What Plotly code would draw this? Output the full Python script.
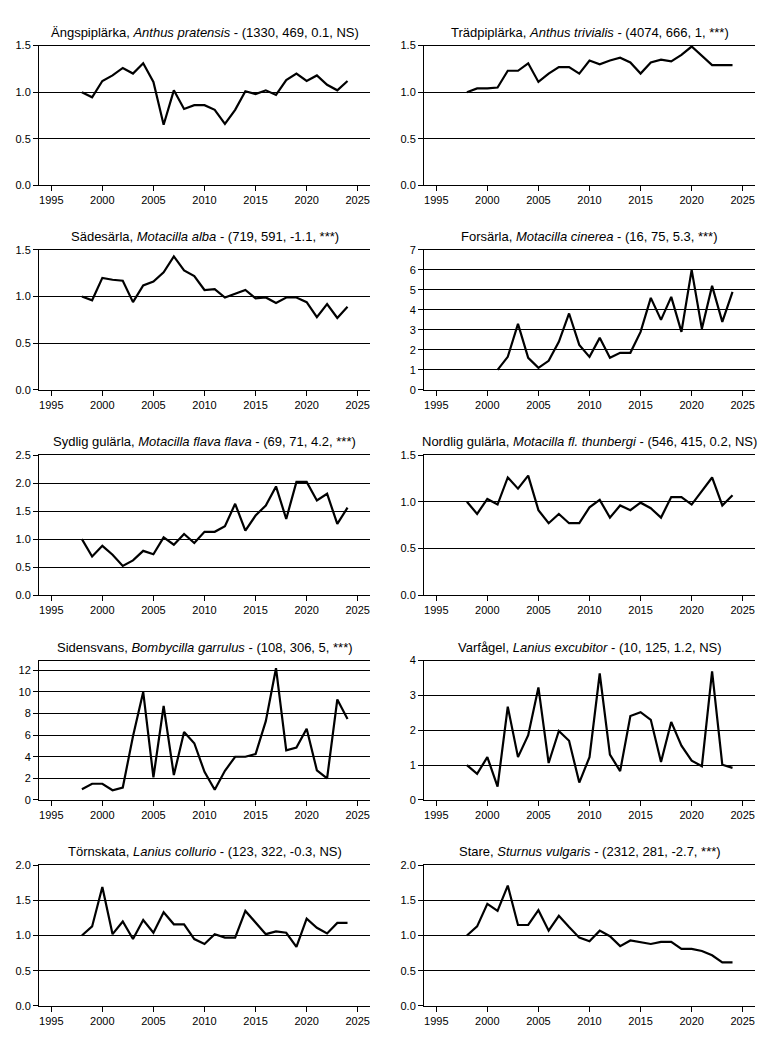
import plotly.graph_objects as go

# Browser body has an 8px default margin; size the figure to fit inside it.
PAGE_W, PAGE_H = 769, 1038
M = 8
W, H = PAGE_W - 2 * M, PAGE_H - 2 * M

years = list(range(1998, 2025))
years_forsarla = list(range(2001, 2025))

angspiplarka = [1.00, 0.945, 1.12, 1.18, 1.26, 1.20, 1.31, 1.11, 0.65, 1.02, 0.82, 0.86, 0.86, 0.81,
                0.66, 0.81, 1.01, 0.98, 1.02, 0.97, 1.13, 1.20, 1.12, 1.18, 1.08, 1.02, 1.12]
tradpiplarka = [1.00, 1.04, 1.04, 1.05, 1.23, 1.23, 1.31, 1.11, 1.20, 1.27, 1.27, 1.20, 1.34, 1.30,
                1.34, 1.37, 1.32, 1.20, 1.32, 1.35, 1.33, 1.40, 1.49, 1.39, 1.29, 1.29, 1.29]
sadesarla = [1.00, 0.96, 1.20, 1.18, 1.17, 0.94, 1.12, 1.16, 1.26, 1.43, 1.28, 1.22, 1.07, 1.08,
             0.99, 1.03, 1.07, 0.98, 0.99, 0.93, 0.99, 0.99, 0.94, 0.78, 0.92, 0.77, 0.89]
forsarla = [1.0, 1.65, 3.3, 1.6, 1.1, 1.45, 2.4, 3.82, 2.25, 1.65, 2.6, 1.6, 1.85, 1.85,
            2.9, 4.6, 3.5, 4.65, 2.9, 6.0, 3.05, 5.2, 3.4, 4.9]
sydlig_gularla = [1.00, 0.69, 0.88, 0.72, 0.52, 0.62, 0.79, 0.73, 1.03, 0.90, 1.09, 0.93, 1.13, 1.13,
                  1.23, 1.63, 1.15, 1.42, 1.60, 1.94, 1.36, 2.02, 2.02, 1.69, 1.81, 1.27, 1.56]
nordlig_gularla = [1.00, 0.87, 1.03, 0.97, 1.26, 1.14, 1.28, 0.91, 0.77, 0.87, 0.77, 0.77, 0.94, 1.02,
                   0.83, 0.96, 0.91, 0.99, 0.93, 0.83, 1.05, 1.05, 0.97, 1.12, 1.26, 0.96, 1.07]
sidensvans = [1.0, 1.5, 1.5, 0.9, 1.15, 5.9, 10.0, 2.1, 8.7, 2.3, 6.3, 5.25, 2.6, 0.95,
              2.7, 4.0, 4.0, 4.25, 7.3, 12.2, 4.6, 4.85, 6.6, 2.75, 2.0, 9.3, 7.5]
varfagel = [1.0, 0.75, 1.23, 0.38, 2.68, 1.23, 1.86, 3.23, 1.06, 1.98, 1.70, 0.5, 1.23, 3.63,
            1.3, 0.83, 2.41, 2.52, 2.3, 1.09, 2.24, 1.56, 1.13, 0.97, 3.69, 1.01, 0.92]
tornskata = [1.00, 1.13, 1.69, 1.02, 1.20, 0.95, 1.22, 1.04, 1.33, 1.16, 1.16, 0.95, 0.88, 1.02,
             0.97, 0.97, 1.35, 1.19, 1.02, 1.06, 1.04, 0.84, 1.24, 1.11, 1.03, 1.18, 1.18]
stare = [1.00, 1.13, 1.45, 1.35, 1.71, 1.15, 1.15, 1.36, 1.07, 1.28, 1.12, 0.97, 0.92, 1.07,
         0.99, 0.85, 0.93, 0.91, 0.88, 0.91, 0.91, 0.81, 0.81, 0.78, 0.72, 0.62, 0.62]

titles = [
    "Ängspiplärka, <i>Anthus pratensis</i> - (1330, 469, 0.1, NS)",
    "Trädpiplärka, <i>Anthus trivialis</i> - (4074, 666, 1, ***)",
    "Sädesärla, <i>Motacilla alba</i> - (719, 591, -1.1, ***)",
    "Forsärla, <i>Motacilla cinerea</i> - (16, 75, 5.3, ***)",
    "Sydlig gulärla, <i>Motacilla flava flava</i> - (69, 71, 4.2, ***)",
    "Nordlig gulärla, <i>Motacilla fl. thunbergi</i> - (546, 415, 0.2, NS)",
    "Sidensvans, <i>Bombycilla garrulus</i> - (108, 306, 5, ***)",
    "Varfågel, <i>Lanius excubitor</i> - (10, 125, 1.2, NS)",
    "Törnskata, <i>Lanius collurio</i> - (123, 322, -0.3, NS)",
    "Stare, <i>Sturnus vulgaris</i> - (2312, 281, -2.7, ***)",
]
series = [angspiplarka, tradpiplarka, sadesarla, forsarla, sydlig_gularla,
          nordlig_gularla, sidensvans, varfagel, tornskata, stare]
xs = [years, years, years, years_forsarla, years, years, years, years, years, years]
y_max = [1.5, 1.5, 1.5, 7, 2.5, 1.5, 12.9, 4, 2.0, 2.0]
y_step = [0.5, 0.5, 0.5, 1, 0.5, 0.5, 2, 1, 0.5, 0.5]
y_fmt = [".1f", ".1f", ".1f", "d", ".1f", ".1f", "d", "d", ".1f", ".1f"]
x_ticks = [1995, 2000, 2005, 2010, 2015, 2020, 2025]

# plot-area positions in page pixels
col_px = [(39, 370), (424, 755)]
row_px = [(40, 181.3), (246.7, 388.3), (454.3, 596), (662.3, 803.3), (869.3, 1011.7)]

font = "Liberation Sans, Arial, sans-serif"
fig = go.Figure()
layout = {}
annotations = []
for i in range(10):
    r, c = divmod(i, 2)
    n = i + 1
    xa = "x" if n == 1 else f"x{n}"
    ya = "y" if n == 1 else f"y{n}"
    fig.add_trace(go.Scatter(x=xs[i], y=series[i], mode="lines",
                             line=dict(color="black", width=2.2),
                             xaxis=xa, yaxis=ya, showlegend=False, hoverinfo="skip"))
    x0, x1 = (v - M for v in col_px[c])
    t, b = (v - M for v in row_px[r])
    layout["xaxis" if n == 1 else f"xaxis{n}"] = dict(
        domain=[x0 / W, x1 / W], anchor=ya, range=[1993.8, 2026.2],
        tickvals=x_ticks, ticks="outside", ticklen=5, tickcolor="black", tickwidth=1,
        showline=True, linecolor="black", linewidth=1, mirror=True,
        showgrid=False, zeroline=False,
        tickfont=dict(family=font, size=11, color="black"))
    yt = []
    v = 0.0
    while v <= y_max[i] + 1e-9:
        yt.append(round(v, 2))
        v += y_step[i]
    layout["yaxis" if n == 1 else f"yaxis{n}"] = dict(
        domain=[1 - b / H, 1 - t / H], anchor=xa, range=[0, y_max[i]],
        tickvals=yt, tickformat=y_fmt[i], ticks="outside", ticklen=5, tickcolor="black",
        tickwidth=1, showline=True, linecolor="black", linewidth=1,
        showgrid=True, gridcolor="black", gridwidth=1, zeroline=False,
        tickfont=dict(family=font, size=11, color="black"))
    annotations.append(dict(text=titles[i], x=(x0 + x1) / 2 / W, y=1 - (t - 4) / H,
                            xref="paper", yref="paper", xanchor="center", yanchor="bottom",
                            showarrow=False, font=dict(family=font, size=13, color="black")))

fig.update_layout(**layout)
fig.update_layout(width=W, height=H, margin=dict(l=0, r=0, t=0, b=0),
                  paper_bgcolor="white", plot_bgcolor="white",
                  annotations=annotations)
fig.write_html("out.html")
